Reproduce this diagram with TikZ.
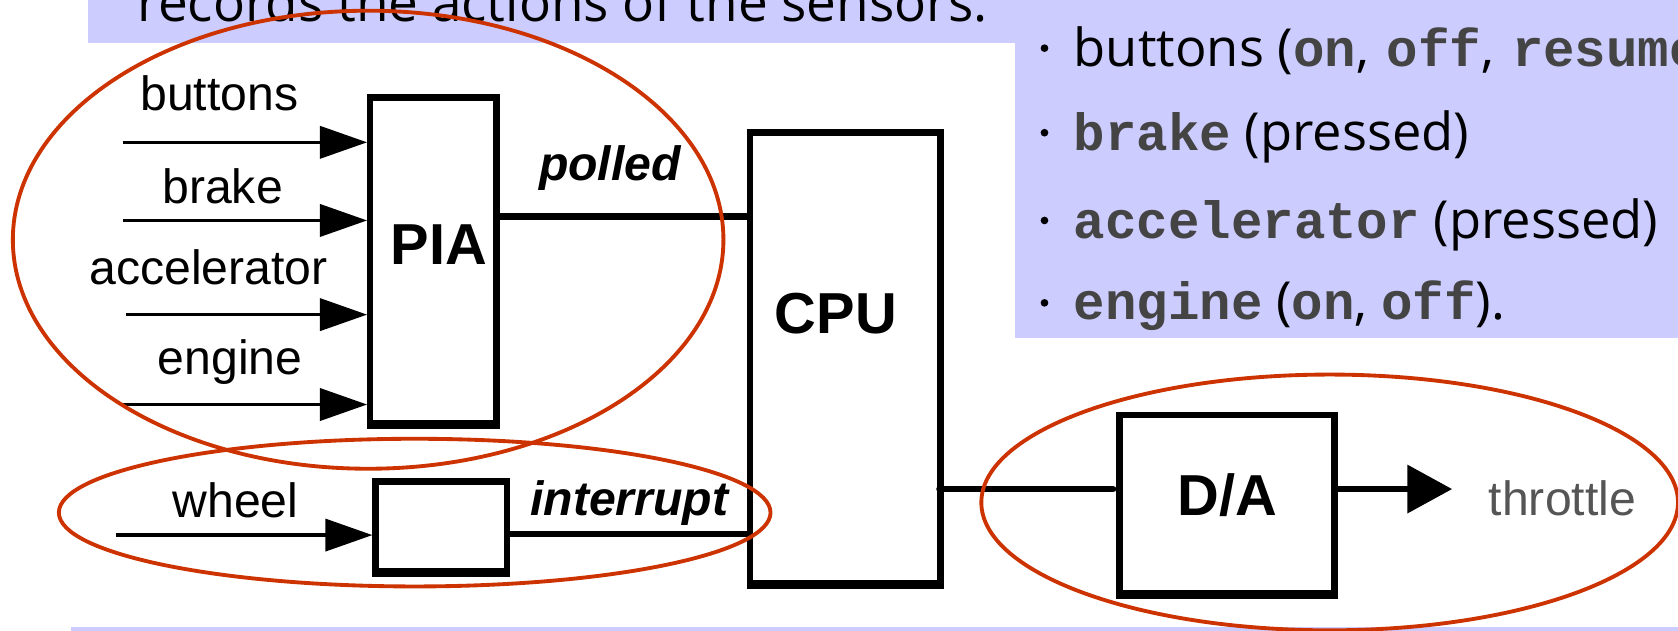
\documentclass[tikz,border=0pt]{standalone}
\usepackage{fontspec}
\setmainfont{Liberation Sans}
\newfontfamily\notefont{Open Sans}
\newfontfamily\codefont{Liberation Mono}
\usetikzlibrary{arrows.meta}
\definecolor{slideblue}{HTML}{CCCCFF}
\definecolor{ringred}{HTML}{CC3300}
\definecolor{codegrey}{HTML}{444444}
\definecolor{labelgrey}{HTML}{555555}
\newcommand{\code}[1]{{\codefont\bfseries\color{codegrey}#1}}
\begin{document}
\begin{tikzpicture}[x=0.5pt,y=-0.5pt,
  box/.style={draw, line width=3pt, inner sep=0pt},
  boxfoot/.style={line width=1.5pt},
  lbl/.style={font=\fontsize{22.5}{27}\selectfont, anchor=base, inner sep=0pt},
  boxlbl/.style={font=\fontsize{27}{32}\selectfont\bfseries, anchor=base, inner sep=0pt},
  sig/.style={font=\fontsize{22.5}{27}\selectfont\bfseries\itshape, anchor=base, inner sep=0pt},
  note/.style={font=\notefont\fontsize{24.5}{29}\selectfont, anchor=base west, inner sep=0pt},
  bullet/.style={circle, fill, inner sep=0pt, minimum size=3.6pt},
  inarrow/.style={line width=1.6pt, -{Triangle[length=22pt,width=15pt]}},
  wire/.style={line width=3.2pt},
  ring/.style={draw=ringred, line width=1.8pt}]
\useasboundingbox (0,0) rectangle (1568,589);
\clip (0,0) rectangle (1568,589);

% slide background panels
\fill[slideblue] (82,0) rectangle (1568,40);
\fill[slideblue] (948,0) rectangle (1568,316);
\fill[slideblue] (66,586) rectangle (1568,600);

% text on the panels
\node[note, font=\notefont\fontsize{24.8}{29}\selectfont] (intro) at (128,20) {records the actions of the sensors.};
\node[bullet] (d1) at (976,45) {};
\node[bullet] (d2) at (976,124) {};
\node[bullet] (d3) at (976,206) {};
\node[bullet] (d4) at (976,283) {};
\node[note] (s1) at (1003,62) {buttons (\code{on},\hspace{2pt} \code{off},\hspace{2pt} \code{resume})};
\node[note] (s2) at (1003,141) {\code{brake} (pressed)};
\node[note] (s3) at (1003,223) {\code{accelerator} (pressed)};
\node[note] (s4) at (1003,299) {\code{engine} (\code{on}, \code{off}).};

% blocks
\node[box, minimum width=59pt, minimum height=152pt] (pia) at (405,243) {};
\node[box, minimum width=89pt, minimum height=210.5pt] (cpu) at (790,334.5) {};
\node[box, minimum width=61.5pt, minimum height=42pt] (wbox) at (412.5,492) {};
\node[box, minimum width=100.5pt, minimum height=83pt] (da) at (1146.5,471) {};
\foreach \b in {pia,cpu,wbox,da}
  \draw[boxfoot] ([yshift=-0.5pt]\b.south west) -- ([yshift=-0.5pt]\b.south east);

\node[boxlbl] (piat) at (410,247) {PIA};
\node[boxlbl] (cput) at (781,312) {CPU};
\node[boxlbl] (dat) at (1147,482) {D/A};

% sensor inputs
\coordinate (in1) at (115,133);
\coordinate (in2) at (115,206);
\coordinate (in3) at (118,294);
\coordinate (in4) at (115,378);
\coordinate (in5) at (108,500);
\draw[inarrow] (in1) -- (in1 -| pia.west);
\draw[inarrow] (in2) -- (in2 -| pia.west);
\draw[inarrow] (in3) -- (in3 -| pia.west);
\draw[inarrow] (in4) -- (in4 -| pia.west);
\draw[inarrow] (in5) -- (in5 -| wbox.west);

\node[lbl] (l1) at (205,103) {buttons};
\node[lbl] (l2) at (208,190) {brake};
\node[lbl] (l3) at (195,266) {accelerator};
\node[lbl] (l4) at (215,350) {engine};
\node[lbl] (l5) at (220,484) {wheel};

% buses to the CPU and out to the throttle
\coordinate (yp) at (0,202);
\coordinate (yi) at (0,499);
\coordinate (yd) at (0,457);
\coordinate (thr) at (1357,457);
\draw[wire] (pia.east |- yp) -- (cpu.west |- yp);
\draw[wire] (wbox.east |- yi) -- ([xshift=3pt]cpu.west |- yi);
\draw[wire, line cap=round] ([xshift=-2pt]cpu.east |- yd) -- ([xshift=-1.5pt]da.west |- yd);
\draw[wire, line cap=round, -{Triangle[length=21pt,width=22pt]}] (da.east |- yd) -- (thr);

\node[sig] (pol) at (570,169) {polled};
\node[sig] (irq) at (588,482) {interrupt};
\node[lbl, text=labelgrey] (thrt) at (1460,482) {throttle};

% highlight rings
\draw[ring] (344,224) ellipse [x radius=166pt, y radius=107pt];
\draw[ring] (387.5,479) ellipse [x radius=166.25pt, y radius=34.5pt];
\draw[ring] (1242.5,469.5) ellipse [x radius=162.75pt, y radius=59.75pt];
\end{tikzpicture}
\end{document}
